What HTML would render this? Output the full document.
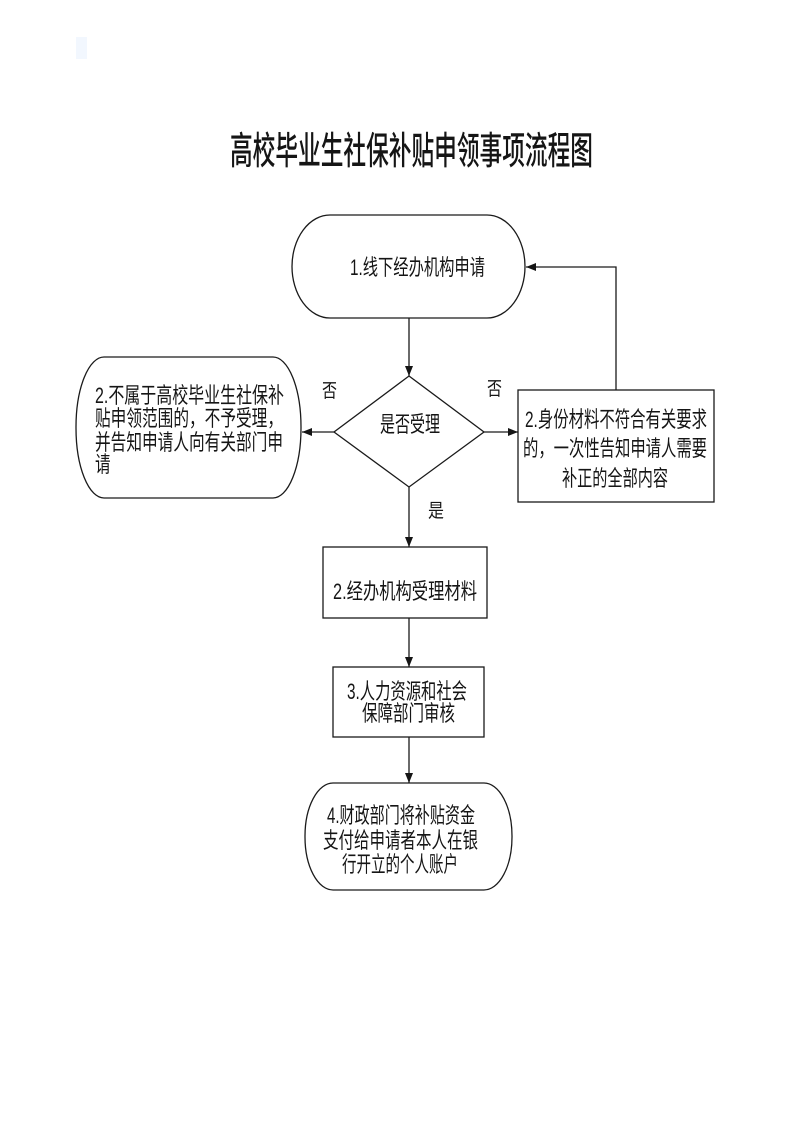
<!DOCTYPE html>
<html>
<head>
<meta charset="utf-8">
<style>
  html,body{margin:0;padding:0;background:#fff;}
  body{width:793px;height:1122px;overflow:hidden;}
  svg{display:block;}
  text{font-family:"Liberation Sans","Noto Sans CJK SC",sans-serif;fill:#151515;}
</style>
</head>
<body>
<svg width="793" height="1122" viewBox="0 0 793 1122" xmlns="http://www.w3.org/2000/svg">
  <defs>
    <marker id="ah" viewBox="0 0 10 10" refX="10" refY="5" markerWidth="10" markerHeight="10" markerUnits="userSpaceOnUse" orient="auto">
      <path d="M0,1 L10,5 L0,9 Z" fill="#151515"/>
    </marker>
  </defs>

  <!-- faint mark -->
  <rect x="76" y="37" width="11" height="22" fill="#f2f7fe"/>

  <!-- Title -->
  <text x="230" y="164" font-size="38" font-weight="500" textLength="363" lengthAdjust="spacingAndGlyphs">高校毕业生社保补贴申领事项流程图</text>

  <g fill="none" stroke="#1a1a1a" stroke-width="1.3">
    <!-- top oval -->
    <rect x="292" y="215" width="233" height="103" rx="38" ry="51.5"/>
    <!-- diamond -->
    <polygon points="409,376 484,432 409,487 334,432"/>
    <!-- left terminator -->
    <rect x="76" y="357" width="225" height="141" rx="28" ry="70"/>
    <!-- right box -->
    <rect x="518" y="390" width="196" height="112"/>
    <!-- box 2 -->
    <rect x="323" y="547" width="164" height="71"/>
    <!-- box 3 -->
    <rect x="333" y="667" width="151" height="70"/>
    <!-- box 4 -->
    <rect x="305" y="783" width="207" height="107" rx="28" ry="53"/>

    <!-- connectors -->
    <line x1="409" y1="318" x2="409" y2="376" marker-end="url(#ah)"/>
    <line x1="334" y1="432" x2="302" y2="432" marker-end="url(#ah)"/>
    <line x1="484" y1="432" x2="518" y2="432" marker-end="url(#ah)"/>
    <polyline points="616,390 616,267 526,267" marker-end="url(#ah)"/>
    <line x1="409" y1="487" x2="409" y2="547" marker-end="url(#ah)"/>
    <line x1="409" y1="618" x2="409" y2="667" marker-end="url(#ah)"/>
    <line x1="409" y1="737" x2="409" y2="783" marker-end="url(#ah)"/>
  </g>

  <!-- node texts -->
  <text x="350" y="275" font-size="22" textLength="135" lengthAdjust="spacingAndGlyphs">1.线下经办机构申请</text>
  <text x="380" y="432" font-size="22" textLength="60" lengthAdjust="spacingAndGlyphs">是否受理</text>

  <text x="95" y="403" font-size="22" textLength="189" lengthAdjust="spacingAndGlyphs">2.不属于高校毕业生社保补</text>
  <text x="95" y="426" font-size="22" textLength="188" lengthAdjust="spacingAndGlyphs">贴申领范围的，不予受理，</text>
  <text x="95" y="450" font-size="22" textLength="188" lengthAdjust="spacingAndGlyphs">并告知申请人向有关部门申</text>
  <text x="95" y="472" font-size="22" textLength="15.6" lengthAdjust="spacingAndGlyphs">请</text>

  <text x="525" y="427" font-size="22" textLength="182" lengthAdjust="spacingAndGlyphs">2.身份材料不符合有关要求</text>
  <text x="523" y="456" font-size="22" textLength="184" lengthAdjust="spacingAndGlyphs">的，一次性告知申请人需要</text>
  <text x="562" y="486" font-size="22" textLength="106" lengthAdjust="spacingAndGlyphs">补正的全部内容</text>

  <text x="333" y="599" font-size="22" textLength="144" lengthAdjust="spacingAndGlyphs">2.经办机构受理材料</text>

  <text x="347" y="699" font-size="22" textLength="120" lengthAdjust="spacingAndGlyphs">3.人力资源和社会</text>
  <text x="362" y="721" font-size="22" textLength="93" lengthAdjust="spacingAndGlyphs">保障部门审核</text>

  <text x="327" y="823" font-size="22" textLength="148" lengthAdjust="spacingAndGlyphs">4.财政部门将补贴资金</text>
  <text x="323" y="848" font-size="22" textLength="155" lengthAdjust="spacingAndGlyphs">支付给申请者本人在银</text>
  <text x="342" y="872" font-size="22" textLength="116" lengthAdjust="spacingAndGlyphs">行开立的个人账户</text>

  <!-- connector labels -->
  <text x="322" y="397" font-size="19" textLength="15" lengthAdjust="spacingAndGlyphs">否</text>
  <text x="487" y="395" font-size="19" textLength="15" lengthAdjust="spacingAndGlyphs">否</text>
  <text x="428" y="517" font-size="19" textLength="16" lengthAdjust="spacingAndGlyphs">是</text>
</svg>
</body>
</html>
